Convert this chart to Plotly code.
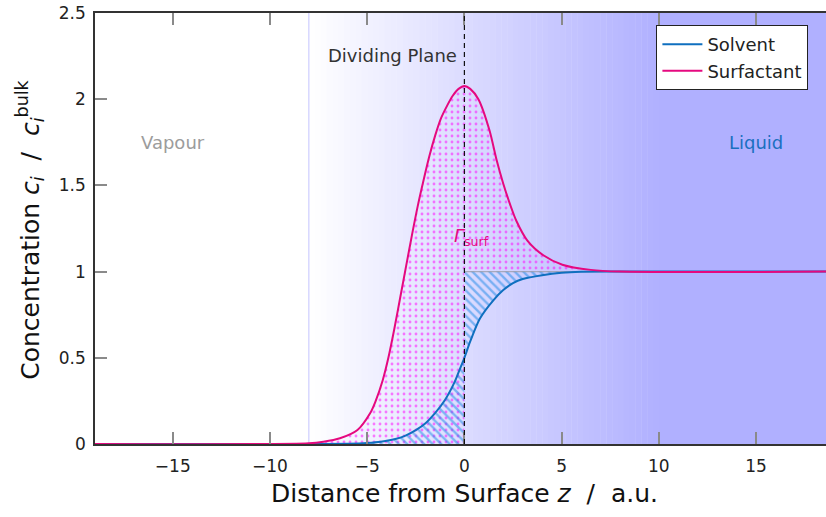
import plotly.graph_objects as go

# ---------------- data ----------------
Z_SOLV = [-19, -8, -6, -5, -4.3, -3.5, -3, -2.5, -2, -1.5, -1.0, -0.5, -0.25, 0,
          0.3, 0.8, 1.5, 2, 2.5, 3, 4, 5, 6, 8, 18.6]
C_SOLV = [0, 0, 0.002, 0.006, 0.013, 0.03, 0.05, 0.08, 0.12, 0.18, 0.255, 0.36, 0.43, 0.5,
          0.595, 0.728, 0.835, 0.893, 0.933, 0.957, 0.979, 0.993, 0.999, 1, 1]

Z_SURF = [-19, -8, -7.25, -6.4, -5.5, -4.85, -4.58, -4.2, -3.91, -3.6, -3.3, -3.0,
          -2.7, -2.4, -2.1, -1.8, -1.5, -1.2, -0.9, -0.6, -0.3, 0, 0.3, 0.72, 1.29,
          1.65, 2.0, 2.35, 2.67, 3.24, 4.06, 5.04, 6.5, 8, 18.6]
C_SURF = [0, 0.004, 0.013, 0.033, 0.081, 0.178, 0.245, 0.37, 0.5, 0.67, 0.85, 1.03,
          1.21, 1.38, 1.53, 1.67, 1.79, 1.89, 1.96, 2.02, 2.06, 2.077, 2.06, 2.0, 1.82,
          1.65, 1.51, 1.39, 1.295, 1.18, 1.095, 1.04, 1.01, 1.0, 1.0]

X_TICKS = [-15, -10, -5, 0, 5, 10, 15]
Y_TICKS = [0, 0.5, 1, 1.5, 2, 2.5]
X_RANGE = [-19, 18.6]
Y_RANGE = [0, 2.5]
PLANE_Z = 0          # dividing plane
VAPOUR_EDGE = -8     # start of the interfacial shading
BULK = 1.0

BLUE = "#0f6fbf"
MAGENTA = "#e5097f"
FONT = "DejaVu Sans"

fig = go.Figure()

# ---------------- fill regions ----------------
# surfactant excess (dots): under curve left of plane, above bulk right of plane
sx, sy = [], []
for z, c in zip(Z_SURF, C_SURF):
    if z >= VAPOUR_EDGE:
        sx.append(z); sy.append(c)
sx += [PLANE_Z, PLANE_Z, VAPOUR_EDGE]
sy += [BULK, 0, 0]
fig.add_trace(go.Scatter(
    x=sx, y=sy, mode="lines", fill="toself", line=dict(width=0),
    fillcolor="rgba(0,0,0,0)",
    fillpattern=dict(shape=".", fgcolor="#ff00ff", bgcolor="rgba(0,0,0,0)",
                     size=6, solidity=0.18),
    showlegend=False, hoverinfo="skip"))

# solvent deficit (hatch)
hx, hy = [], []
for z, c in zip(Z_SOLV, C_SOLV):
    if z >= VAPOUR_EDGE:
        hx.append(z); hy.append(c)
hx += [PLANE_Z, PLANE_Z, VAPOUR_EDGE]
hy += [BULK, 0, 0]
fig.add_trace(go.Scatter(
    x=hx, y=hy, mode="lines", fill="toself", line=dict(width=0),
    fillcolor="rgba(0,0,0,0)",
    fillpattern=dict(shape="\\", fgcolor="#1a88e8", bgcolor="rgba(0,0,0,0)",
                     size=6, solidity=0.4),
    showlegend=False, hoverinfo="skip"))

# bulk reference line right of plane
fig.add_trace(go.Scatter(
    x=[PLANE_Z, X_RANGE[1]], y=[BULK, BULK], mode="lines",
    line=dict(color="rgba(150,150,160,0.7)", width=1.2),
    showlegend=False, hoverinfo="skip"))

# ---------------- curves ----------------
fig.add_trace(go.Scatter(x=Z_SOLV, y=C_SOLV, mode="lines", name="Solvent",
                         line=dict(color=BLUE, width=2, shape="spline", smoothing=0.8)))
fig.add_trace(go.Scatter(x=Z_SURF, y=C_SURF, mode="lines", name="Surfactant",
                         line=dict(color=MAGENTA, width=2, shape="spline", smoothing=0.8)))

# ---------------- background gradient ----------------
shapes = []
g0, g1 = VAPOUR_EDGE, 10.0
end_rgb = (176, 176, 255)
n = 60
for i in range(n):
    a = g0 + (g1 - g0) * i / n
    b = g0 + (g1 - g0) * (i + 1) / n
    f = (i + 0.5) / n
    r = round(255 + (end_rgb[0] - 255) * f)
    g = round(255 + (end_rgb[1] - 255) * f)
    shapes.append(dict(type="rect", xref="x", yref="y", x0=a, x1=b + 0.02,
                       y0=Y_RANGE[0], y1=Y_RANGE[1], line=dict(width=0),
                       fillcolor=f"rgb({r},{g},255)", layer="below"))
shapes.append(dict(type="rect", xref="x", yref="y", x0=g1, x1=X_RANGE[1],
                   y0=Y_RANGE[0], y1=Y_RANGE[1], line=dict(width=0),
                   fillcolor=f"rgb({end_rgb[0]},{end_rgb[1]},255)", layer="below"))
shapes.append(dict(type="line", xref="x", yref="y", x0=VAPOUR_EDGE, x1=VAPOUR_EDGE,
                   y0=Y_RANGE[0], y1=Y_RANGE[1], line=dict(color="#c4c4ff", width=1),
                   layer="below"))
shapes.append(dict(type="line", xref="x", yref="y", x0=PLANE_Z, x1=PLANE_Z,
                   y0=Y_RANGE[0], y1=Y_RANGE[1],
                   line=dict(color="#111", width=1.2, dash="5px,4px"), layer="above"))

annotations = [
    dict(x=-15, y=1.75, xref="x", yref="y", text="Vapour", showarrow=False,
         font=dict(family=FONT, size=18, color="#9c9c9c")),
    dict(x=15, y=1.75, xref="x", yref="y", text="Liquid", showarrow=False,
         font=dict(family=FONT, size=18, color="#1a6fc0")),
    dict(x=-0.3, y=2.255, xref="x", yref="y", text="Dividing Plane", showarrow=False,
         xanchor="right", yanchor="middle", font=dict(family=FONT, size=18, color="#333333")),
    dict(x=-0.62, y=1.2, xref="x", yref="y", text="<i>Γ</i><sub>surf</sub>",
         showarrow=False, xanchor="left", yanchor="middle",
         font=dict(family=FONT, size=18, color=MAGENTA)),
    dict(x=0.505, y=-0.114, xref="paper", yref="paper", xanchor="center", yanchor="middle",
         text="Distance from Surface <i>z</i>  /  a.u.", showarrow=False,
         font=dict(family=FONT, size=25, color="#111")),
    dict(x=-0.089, y=0.497, xref="paper", yref="paper", textangle=-90,
         xanchor="center", yanchor="middle",
         text="Concentration <i>c<sub>i</sub></i>  /  <i>c</i><sub><i>i</i></sub><sup>bulk</sup>",
         showarrow=False, font=dict(family=FONT, size=25, color="#111")),
]

fig.update_layout(
    width=826, height=517,
    margin=dict(l=95, r=0, t=13, b=73),
    paper_bgcolor="white", plot_bgcolor="white",
    font=dict(family=FONT, size=17, color="#222"),
    shapes=shapes, annotations=annotations,
    legend=dict(x=0.768, y=0.972, xanchor="left", yanchor="top",
                bgcolor="white", bordercolor="#222", borderwidth=1,
                font=dict(family=FONT, size=18, color="#222"),
                tracegroupgap=0, itemwidth=40),
    xaxis=dict(range=X_RANGE, tickvals=X_TICKS, ticks="inside", ticklen=12,
               tickwidth=2, tickcolor="#8a8a8a", showgrid=False, zeroline=False,
               showline=True, linecolor="#333", linewidth=1.5, mirror="ticks",
               ticklabelstandoff=6,
               tickfont=dict(family=FONT, size=17, color="#222")),
    yaxis=dict(range=Y_RANGE, tickvals=Y_TICKS, ticks="inside", ticklen=12,
               tickwidth=2, tickcolor="#8a8a8a", showgrid=False, zeroline=False,
               showline=True, linecolor="#333", linewidth=1.5,
               ticklabelstandoff=4,
               tickfont=dict(family=FONT, size=17, color="#222")),
)

fig.write_html("out.html")
